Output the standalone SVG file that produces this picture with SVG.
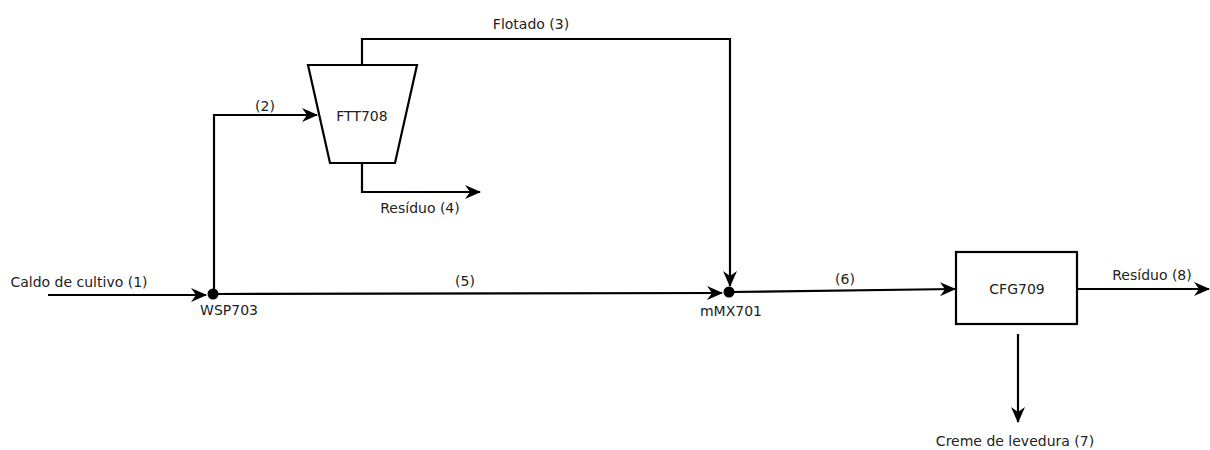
<svg xmlns="http://www.w3.org/2000/svg" width="1210" height="450" viewBox="0 0 1210 450">
<style>
text{font-family:"DejaVu Sans","Liberation Sans",sans-serif;font-size:14px;fill:#222;}
.c{text-anchor:middle;}
.ln{fill:none;stroke:#000;stroke-width:2.2;}
.sh{fill:#fff;stroke:#000;stroke-width:2.2;}
</style>
<defs>
<marker id="ah" viewBox="0 0 16 14" refX="15" refY="7" markerWidth="16" markerHeight="14" markerUnits="userSpaceOnUse" orient="auto">
<path d="M0,0 L16,7 L0,14 L5,7 Z" fill="#000"/>
</marker>
</defs>
<rect width="1210" height="450" fill="#fff"/>
<g id="connectors">
<path class="ln" d="M48,295 L206,295" marker-end="url(#ah)"/>
<path class="ln" d="M214,294 L214,115 L317,115" marker-end="url(#ah)"/>
<path class="ln" d="M362,65 L362,39 L730,39 L730,286" marker-end="url(#ah)"/>
<path class="ln" d="M362,163 L362,192 L480,192" marker-end="url(#ah)"/>
<path class="ln" d="M214,294 L722,293" marker-end="url(#ah)"/>
<path class="ln" d="M730,292 L955,289" marker-end="url(#ah)"/>
<path class="ln" d="M1077,289 L1209,289" marker-end="url(#ah)"/>
<path class="ln" d="M1018,334 L1018,422" marker-end="url(#ah)"/>
</g>
<g id="WSP703">
<circle cx="213" cy="294" r="5.5" fill="#000"/>
<text x="229" y="315" class="c">WSP703</text>
</g>
<g id="FTT708">
<path class="sh" d="M308,65 L417,65 L395,163 L330,163 Z"/>
<text x="362" y="121" class="c">FTT708</text>
</g>
<g id="mMX701">
<circle cx="729" cy="292" r="5.5" fill="#000"/>
<text x="731" y="316" class="c">mMX701</text>
</g>
<g id="CFG709">
<rect class="sh" x="956" y="252" width="121" height="72"/>
<text x="1017" y="294" class="c">CFG709</text>
</g>
<g id="labels">
<text x="79" y="287" class="c">Caldo de cultivo (1)</text>
<text x="265" y="111" class="c">(2)</text>
<text x="531" y="29" class="c">Flotado (3)</text>
<text x="420" y="213" class="c">Resíduo (4)</text>
<text x="465" y="286" class="c">(5)</text>
<text x="845" y="284" class="c">(6)</text>
<text x="1015" y="446" class="c">Creme de levedura (7)</text>
<text x="1152" y="280" class="c">Resíduo (8)</text>
</g>
</svg>
